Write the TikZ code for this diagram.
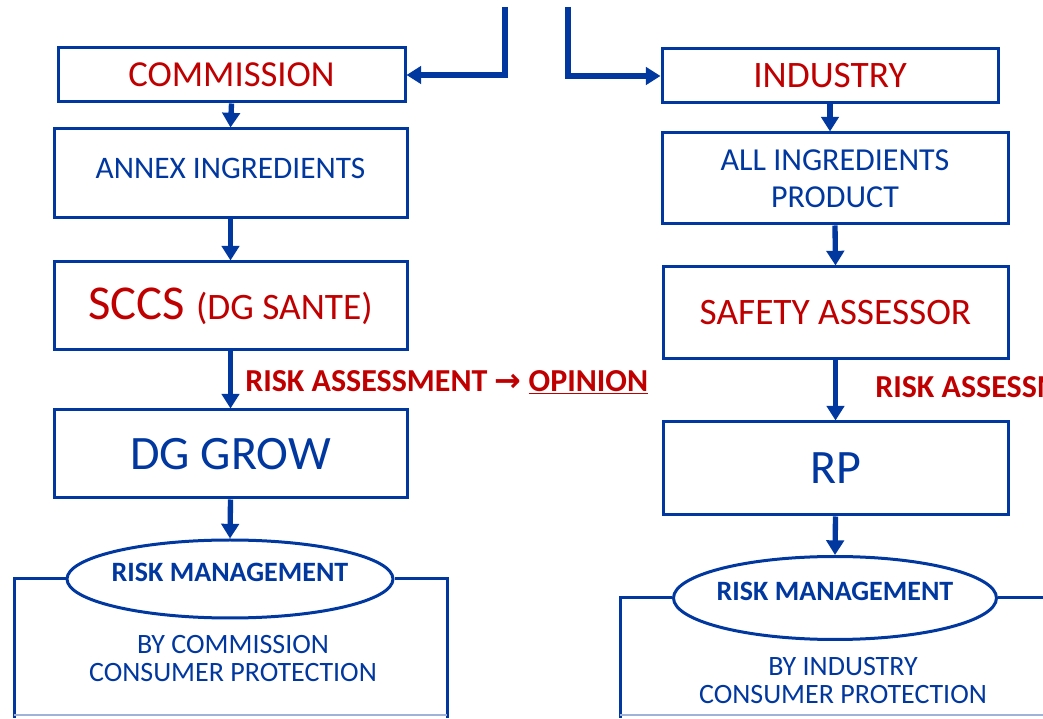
\documentclass[tikz,border=0pt]{standalone}
\usepackage{fontspec}
\setmainfont{Carlito}
\newfontfamily\symbolfont{DejaVu Sans}
\usetikzlibrary{arrows.meta,shapes.geometric}

\definecolor{drawBlue}{RGB}{0,56,160}
\definecolor{textBlue}{RGB}{0,56,160}
\definecolor{riskRed}{RGB}{192,0,0}
\definecolor{faintBlue}{RGB}{160,178,216}

\tikzset{
  blockbox/.style={draw=drawBlue, line width=2.25pt, inner sep=0pt, align=center, text=textBlue},
  flowarrow/.style={draw=drawBlue, line width=4pt, -{Triangle[length=11pt,width=13pt]}},
  riskellipse/.style={ellipse, draw=drawBlue, line width=2.25pt, inner xsep=-12pt, inner ysep=0pt,
    text depth=10pt, text=textBlue, font=\bfseries\fontsize{21}{25}\selectfont},
  framepath/.style={draw=drawBlue, line width=2.25pt},
  framebase/.style={draw=faintBlue, line width=1pt},
  framenote/.style={align=center, text=textBlue, font=\fontsize{21}{21}\selectfont},
  risklabel/.style={anchor=west, inner sep=0pt, text=riskRed, font=\bfseries\fontsize{24}{28}\selectfont},
}

\begin{document}
\begin{tikzpicture}[x=1pt,y=1pt]
\path[use as bounding box,fill=white] (0,0) rectangle (782.25,538.50);
\clip (0,0) rectangle (782.25,538.50);

% left column
\node[blockbox, minimum width=260.25pt, minimum height=40.50pt, text=riskRed,
  font=\fontsize{27.5}{32}\selectfont] (comm) at (173.63,482.25) {COMMISSION};
\node[blockbox, minimum width=264.75pt, minimum height=66.75pt, text depth=8pt,
  font=\fontsize{23.5}{28}\selectfont] (annex) at (172.88,408.38) {ANNEX INGREDIENTS};
\node[blockbox, minimum width=264.75pt, minimum height=66.00pt, text=riskRed,
  font=\fontsize{36.5}{40}\selectfont] (sccs) at (172.88,309.00) {SCCS {\fontsize{28}{32}\selectfont(DG SANTE)}};
\node[blockbox, minimum width=264.75pt, minimum height=66.00pt,
  font=\fontsize{36}{40}\selectfont] (grow) at (172.88,198.00) {DG GROW};
\node[riskellipse, minimum width=244.50pt, minimum height=58.50pt] (mgmtL) at (172.50,104.25) {RISK MANAGEMENT};

% right column
\node[blockbox, minimum width=252.00pt, minimum height=40.50pt, text=riskRed,
  font=\fontsize{28}{32}\selectfont] (ind) at (622.50,481.50) {INDUSTRY};
\node[blockbox, minimum width=259.50pt, minimum height=68.25pt,
  font=\fontsize{24}{27.75}\selectfont] (allin) at (626.25,404.63) {ALL INGREDIENTS\\PRODUCT};
\node[blockbox, minimum width=258.75pt, minimum height=69.00pt, text=riskRed,
  font=\fontsize{28}{32}\selectfont] (safety) at (626.63,303.75) {SAFETY ASSESSOR};
\node[blockbox, minimum width=258.75pt, minimum height=69.75pt,
  font=\fontsize{36}{40}\selectfont] (rp) at (626.63,187.13) {RP};
\node[riskellipse, minimum width=242.25pt, minimum height=62.25pt] (mgmtR) at (626.25,90.00) {RISK MANAGEMENT};

% incoming lines
\coordinate (topL) at (378.75,533.25);
\coordinate (topR) at (426.00,533.25);
\draw[flowarrow] (topL) |- (comm.east);
\draw[flowarrow] (topR) |- (ind.west);

% flow
\draw[flowarrow] (comm.south) -- (annex.north);
\draw[flowarrow] (annex.south) -- (sccs.north);
\draw[flowarrow] (sccs.south) -- (grow.north);
\draw[flowarrow] (grow.south) -- (mgmtL.north);
\draw[flowarrow] (ind.south) -- (ind.south |- allin.north);
\draw[flowarrow] (allin.south) -- (safety.north);
\draw[flowarrow] (safety.south) -- (rp.north);
\draw[flowarrow] (rp.south) -- (mgmtR.north);

\node[risklabel] (assessL) at (183.75,252.00) {RISK ASSESSMENT {\symbolfont\bfseries →} \underline{OPINION}};
\node[risklabel] (assessR) at (656.25,248.25) {RISK ASSESSMENT};

% frames below the ellipses
\coordinate (frLsw) at (10.50,0);
\coordinate (frLse) at (335.25,0);
\coordinate (frRsw) at (465.00,0);
\coordinate (frRe) at (790.00,90.00);
\draw[framepath] (mgmtL.west) -| (frLsw);
\draw[framepath] (mgmtL.east) -| (frLse);
\draw[framebase] (10.50,2.25) -- (335.25,2.25);
\draw[framepath] (mgmtR.west) -| (frRsw);
\draw[framepath] (mgmtR.east) -- (frRe);
\draw[framebase] (465.00,2.25) -- (782.25,2.25);

\node[framenote] (noteL) at (174.75,44.25) {BY COMMISSION\\CONSUMER PROTECTION};
\node[framenote] (noteR) at (632.25,27.75) {BY INDUSTRY\\CONSUMER PROTECTION};
\end{tikzpicture}
\end{document}
